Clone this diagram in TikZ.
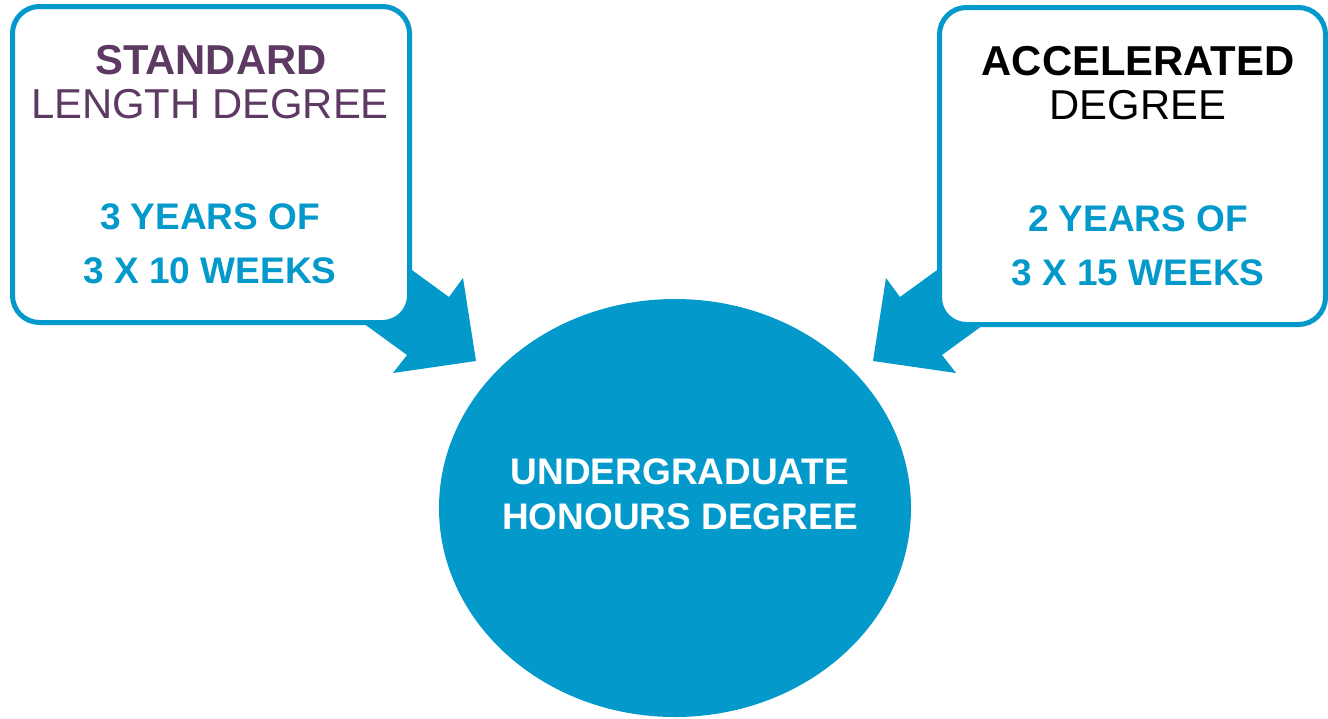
\documentclass[tikz,border=0pt]{standalone}
\usepackage{fontspec}
\setmainfont{Liberation Sans}
\usetikzlibrary{shapes.geometric}
\definecolor{uniblue}{HTML}{0399CB}
\definecolor{unipurple}{HTML}{5C3A62}
\tikzset{
  box/.style={draw=uniblue, line width=5pt, fill=white, rounded corners=27pt,
    inner sep=0pt, outer sep=0pt},
  blockarrow/.style={fill=uniblue, draw=none},
  hubshape/.style={ellipse, fill=uniblue, draw=none, inner sep=0pt,
    minimum width=472pt, minimum height=418pt},
  txt/.style={anchor=base, inner sep=0pt, align=center},
  headbold/.style={txt, font=\fontsize{41.8}{41.8}\selectfont\bfseries},
  headreg/.style={txt, font=\fontsize{41.8}{41.8}\selectfont},
  detail/.style={txt, text=uniblue, font=\fontsize{37}{37}\selectfont\bfseries},
  hubtxt/.style={txt, text=white, font=\fontsize{37}{37}\selectfont\bfseries}
}
\begin{document}
\begin{tikzpicture}[x=1pt, y=-1pt]
\useasboundingbox (0,0) rectangle (1328,718);
% block arrows (drawn first, boxes cover their tails)
\coordinate (lt) at (476,361);
\coordinate (lc1) at (463,278);
\coordinate (ln1) at (449,297);
\coordinate (lb1) at (328,209);
\coordinate (lb2) at (286,267);
\coordinate (ln2) at (407,355);
\coordinate (lc2) at (393,373);
\fill[blockarrow] (lt) -- (lc1) -- (ln1) -- (lb1) -- (lb2) -- (ln2) -- (lc2) -- cycle;
\coordinate (rt) at (873,361);
\coordinate (rc1) at (886,278);
\coordinate (rn1) at (900,297);
\coordinate (rb1) at (1021,209);
\coordinate (rb2) at (1063,267);
\coordinate (rn2) at (942,355);
\coordinate (rc2) at (956,373);
\fill[blockarrow] (rt) -- (rc1) -- (rn1) -- (rb1) -- (rb2) -- (rn2) -- (rc2) -- cycle;
% boxes
\node[box, minimum width=397pt, minimum height=316pt] (stdbox) at (211,164.5) {};
\node[box, minimum width=386pt, minimum height=317pt] (accbox) at (1132.5,166) {};
% hub
\node[hubshape] (hub) at (675,508) {};
% texts
\node[headbold, text=unipurple] (std1) at (211,74) {STANDARD};
\node[headreg, text=unipurple] (std2) at (210,118) {LENGTH DEGREE};
\node[detail] (std3) at (210,229) {3 YEARS OF};
\node[detail] (std4) at (210,283) {3 X 10 WEEKS};
\node[headbold, text=black] (acc1) at (1138,75) {ACCELERATED};
\node[headreg, text=black] (acc2) at (1138,119) {DEGREE};
\node[detail] (acc3) at (1138,231) {2 YEARS OF};
\node[detail] (acc4) at (1138,285) {3 X 15 WEEKS};
\node[hubtxt] (hub1) at (680,484) {UNDERGRADUATE};
\node[hubtxt] (hub2) at (680,529) {HONOURS DEGREE};
\end{tikzpicture}
\end{document}
